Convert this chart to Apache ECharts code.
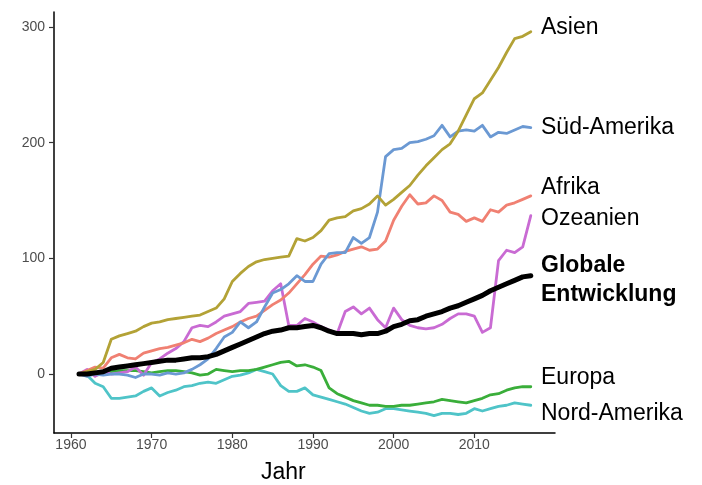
<!DOCTYPE html>
<html>
<head>
<meta charset="utf-8">
<script src="https://cdn.jsdelivr.net/npm/echarts@6/dist/echarts.min.js"></script>
<style>
  html, body { margin: 0; padding: 0; background: #fff; }
  #mainCanvas { width: 702px; height: 485px; }
</style>
</head>
<body>
<div id="mainCanvas"></div>
<script>
var myChart = echarts.init(document.getElementById("mainCanvas"));

// Jahre 1961 - 2017
var years = [];
for (var y = 1961; y <= 2017; y++) years.push(y);

var asien = [0, 2, 4, 10, 30, 33, 35, 37, 41, 44, 45, 47, 48, 49, 50, 51, 54, 57, 65, 80,
    87, 93, 97, 99, 100, 101, 102, 117, 115, 118, 124, 133, 135, 136, 141, 143, 147, 154, 146, 151,
    157, 163, 172, 180, 187, 194, 199, 210, 224, 238, 243, 254, 265, 278, 290, 292, 296];
var suedAmerika = [0, -2, 0, -1, 0, 0, -1, -3, 0, 0, -1, 1, 0, 1, 4, 8, 13, 22, 32, 36,
    45, 40, 45, 58, 70, 73, 78, 85, 80, 80, 95, 104, 105, 105, 118, 113, 118, 140, 188, 194,
    195, 200, 201, 203, 206, 215, 205, 210, 211, 210, 215, 205, 209, 208, 211, 214, 213];
var afrika = [0, 3, 6, 5, 14, 17, 14, 13, 18, 20, 22, 23, 25, 27, 30, 28, 31, 35, 38, 41,
    45, 48, 50, 55, 60, 64, 70, 78, 86, 95, 102, 101, 103, 106, 108, 110, 107, 108, 115, 133,
    145, 155, 147, 148, 154, 150, 140, 138, 132, 135, 132, 142, 140, 146, 148, 151, 154];
var ozeanien = [0, 4, -2, 2, 0, 1, 2, 6, -1, 10, 13, 18, 22, 28, 40, 42, 41, 45, 50, 52,
    54, 61, 62, 63, 72, 78, 42, 42, 48, 45, 41, 38, 35, 54, 58, 52, 57, 47, 40, 57,
    47, 42, 40, 39, 40, 43, 48, 52, 52, 50, 36, 40, 98, 107, 105, 110, 137];
var global = [0, 0, 1, 2, 5, 6, 7, 8, 9, 10, 11, 12, 12, 13, 14, 14, 15, 17, 20, 23,
    26, 29, 32, 35, 37, 38, 40, 40, 41, 42, 40, 37, 35, 35, 35, 34, 35, 35, 37, 41,
    43, 46, 47, 50, 52, 54, 57, 59, 62, 65, 68, 72, 75, 78, 81, 84, 85];
var europa = [0, 1, -1, 0, 2, 3, 3, 3, 2, 1, 2, 3, 3, 2, 1, -1, 0, 4, 3, 2,
    3, 3, 4, 6, 8, 10, 11, 7, 8, 6, 3, -12, -17, -20, -23, -25, -27, -27, -28, -28,
    -27, -27, -26, -25, -24, -22, -23, -24, -25, -23, -21, -18, -17, -14, -12, -11, -11];
var nordAmerika = [0, -1, -8, -11, -21, -21, -20, -19, -15, -12, -19, -16, -14, -11, -10, -8, -7, -8, -5, -2,
    -1, 1, 4, 2, 0, -10, -15, -15, -12, -18, -20, -22, -24, -26, -29, -32, -34, -33, -30, -30,
    -31, -32, -33, -34, -36, -34, -34, -35, -34, -30, -32, -30, -28, -27, -25, -26, -27];

var xTicks = [1960, 1970, 1980, 1990, 2000, 2010];
var yTicks = [0, 100, 200, 300];

function pairs(arr) {
    return arr.map(function (v, i) { return [years[i], v]; });
}

function line(name, arr, color, width) {
    return {
        name: name,
        type: 'line',
        data: pairs(arr),
        symbol: 'none',
        smooth: false,
        lineStyle: { color: color, width: width, join: 'round', cap: 'round' },
        z: width > 3.5 ? 10 : 2
    };
}

var labelStyle = { fill: '#000', fontFamily: 'Liberation Sans, Arial, sans-serif', fontSize: 23 };
var tickFont = { color: '#4d4d4d', fontSize: 14, fontFamily: 'Liberation Sans, Arial, sans-serif' };

var option = {
    animation: false,
    backgroundColor: '#fff',
    grid: { left: 54, right: 147, top: 12, bottom: 52 },
    xAxis: {
        type: 'value',
        min: 1957.9,
        max: 2020,
        splitLine: { show: false },
        axisLine: { onZero: false, lineStyle: { color: '#000', width: 1.5 } },
        axisTick: { show: true, length: 5, customValues: xTicks, lineStyle: { color: '#333', width: 1.2 } },
        axisLabel: Object.assign({
            customValues: xTicks, margin: 5,
            formatter: function (v) { return String(v); }
        }, tickFont)
    },
    yAxis: {
        type: 'value',
        min: -51,
        max: 313,
        splitLine: { show: false },
        axisLine: { show: true, onZero: false, lineStyle: { color: '#000', width: 1.5 } },
        axisTick: { show: true, length: 5, customValues: yTicks, lineStyle: { color: '#333', width: 1.2 } },
        axisLabel: Object.assign({ customValues: yTicks, margin: 9 }, tickFont)
    },
    series: [
        line('Nord-Amerika', nordAmerika, '#4fc4c8', 2.8),
        line('Europa', europa, '#3aae3a', 2.8),
        line('Ozeanien', ozeanien, '#c96bd3', 2.8),
        line('Afrika', afrika, '#f08072', 2.8),
        line('Süd-Amerika', suedAmerika, '#6b99d3', 2.8),
        line('Asien', asien, '#b3a236', 2.8),
        line('Globale Entwicklung', global, '#000', 5)
    ],
    graphic: [
        { type: 'text', left: 541, top: 16, style: Object.assign({ text: 'Asien' }, labelStyle) },
        { type: 'text', left: 541, top: 116, style: Object.assign({ text: 'Süd-Amerika' }, labelStyle) },
        { type: 'text', left: 541, top: 176, style: Object.assign({ text: 'Afrika' }, labelStyle) },
        { type: 'text', left: 541, top: 207, style: Object.assign({ text: 'Ozeanien' }, labelStyle) },
        { type: 'text', left: 541, top: 251, style: Object.assign({ text: 'Globale\nEntwicklung', fontWeight: 'bold', lineHeight: 29 }, labelStyle) },
        { type: 'text', left: 541, top: 366, style: Object.assign({ text: 'Europa' }, labelStyle) },
        { type: 'text', left: 541, top: 402, style: Object.assign({ text: 'Nord-Amerika' }, labelStyle) },
        { type: 'text', left: 261, top: 461, style: Object.assign({ text: 'Jahr' }, labelStyle) }
    ]
};

myChart.setOption(option);
</script>
</body>
</html>
